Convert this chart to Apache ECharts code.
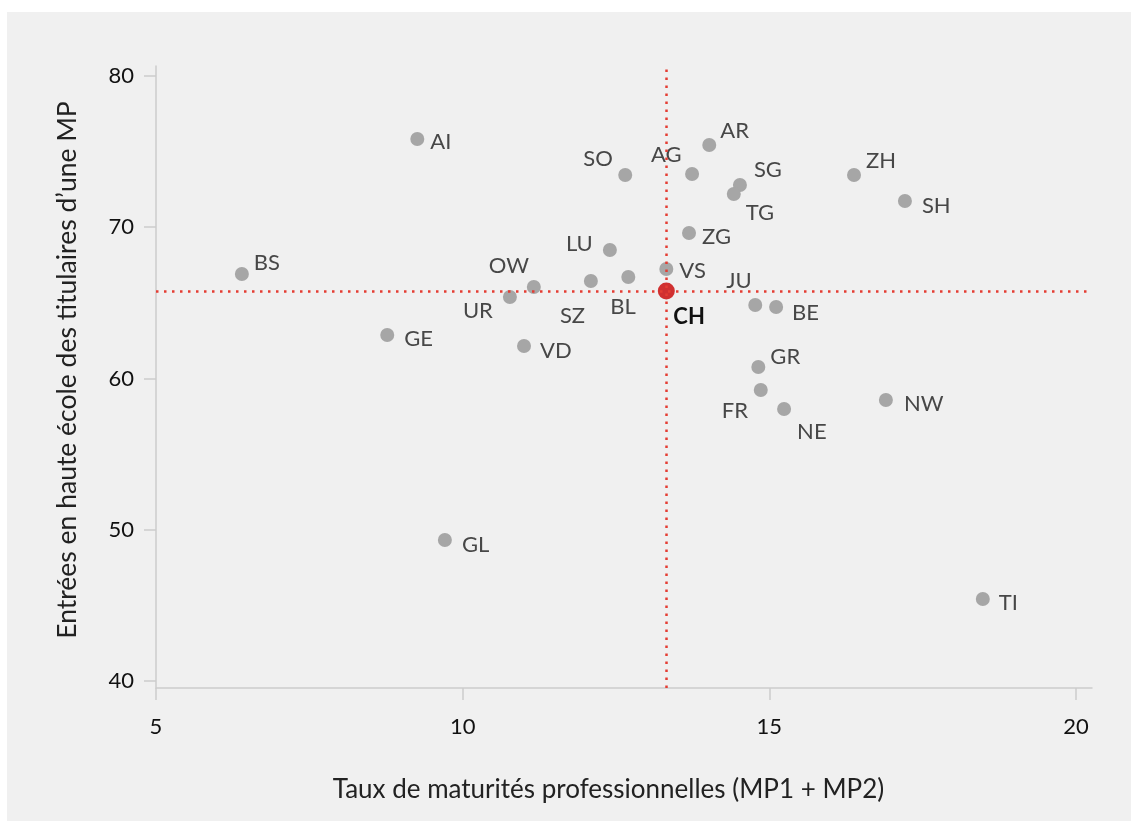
<!DOCTYPE html>
<html>
<head>
<meta charset="utf-8">
<script src="https://cdn.jsdelivr.net/npm/echarts@6/dist/echarts.min.js"></script>
<style>
html,body{margin:0;padding:0;background:#fff;}
#panel{position:absolute;left:7px;top:12px;right:0;bottom:0;background:#f0f0f0;}
#chart{position:absolute;left:0;top:0;width:1131px;height:821px;}
</style>
</head>
<body>
<div id="panel"></div>
<div id="chart"></div>
<script>
// ---- Data ----
const cantons = ['AI','BS','GE','GL','UR','OW','VD','SZ','LU','BL','SO','VS','AG','AR','ZG','SG','TG','JU','BE','GR','FR','NE','ZH','SH','NW','TI'];
const mpRate  = [9.26, 6.40, 8.77, 9.71, 10.77, 11.16, 11.00, 12.09, 12.40, 12.70, 12.65, 13.32, 13.74, 14.02, 13.69, 14.52, 14.42, 14.77, 15.11, 14.82, 14.86, 15.24, 16.38, 17.21, 16.90, 18.48];
const hsEntry = [75.83, 66.91, 62.88, 49.32, 65.39, 66.05, 62.15, 66.45, 68.50, 66.71, 73.45, 67.24, 73.52, 75.44, 69.62, 72.79, 72.20, 64.86, 64.73, 60.76, 59.24, 57.98, 73.45, 71.74, 58.58, 45.42];
const chLabel = 'CH';
const chValue = [13.32, 65.79];
const xTicks = [5, 10, 15, 20];
const yTicks = [40, 50, 60, 70, 80];
const xName = 'Taux de maturités professionnelles (MP1 + MP2)';
const yName = 'Entrées en haute école des titulaires d’une MP';

// label placement (pixel offsets from point center: left edge x, middle y)
const labelOffsets = {
  AI:[13,3], BS:[12,-11], GE:[17,4], GL:[17,5], UR:[-47,14], OW:[-45,-21], VD:[16,5],
  SZ:[-31,35], LU:[-44,-6], BL:[-18,30], SO:[-42,-16], VS:[13,2], AG:[-41,-19], AR:[11,-14],
  ZG:[13,4], SG:[14,-15], TG:[12,19], JU:[-29,-24], BE:[16,6], GR:[12,-10], FR:[-39,21],
  NE:[13,23], ZH:[12,-14], SH:[17,5], NW:[18,4], TI:[16,4], CH:[7,26]
};

const FONT = 'Lato, "Noto Sans", sans-serif';
const ctx = document.createElement('canvas').getContext('2d');
function fit(text, target, weight){
  ctx.font = (weight||'normal') + ' 100px ' + FONT;
  const w = ctx.measureText(text).width;
  return Math.round(target / w * 100 * 2) / 2;
}
const nameSizeX = fit(xName, 551);
const nameSizeY = fit(yName, 540);
const tickSize = 22;
const labelSize = 22;

const chart = echarts.init(document.getElementById('chart'), null, {renderer:'canvas'});

const pts = cantons.map((c,i)=>({
  name:c, value:[mpRate[i], hsEntry[i]],
  label:{offset:labelOffsets[c]}
}));

const option = {
  animation:false,
  backgroundColor:'transparent',
  grid:{left:156, right:39, top:66, bottom:133, containLabel:false},
  xAxis:{
    type:'value', min:5, max:20.26,
    name:xName, nameLocation:'middle', nameGap:790 - 688 - nameSizeX/2,
    nameTextStyle:{fontFamily:FONT, fontSize:nameSizeX, color:'#222', padding:[0,31,0,0]},
    splitLine:{show:false},
    axisLine:{show:true, lineStyle:{color:'#cccccc', width:1.5}},
    axisTick:{show:true, length:12, lineStyle:{color:'#cccccc', width:1.5}, customValues:xTicks},
    axisLabel:{fontFamily:FONT, fontSize:tickSize, color:'#111', margin:727 - 688 - tickSize/2, customValues:xTicks}
  },
  yAxis:{
    type:'value', min:39.54, max:80.66,
    name:yName, nameLocation:'middle', nameGap:156 - 68 - nameSizeY/2, nameRotate:90,
    nameTextStyle:{fontFamily:FONT, fontSize:nameSizeY, color:'#222', padding:[0,0,0,14]},
    splitLine:{show:false},
    axisLine:{show:true, lineStyle:{color:'#cccccc', width:1.5}},
    axisTick:{show:true, length:12, lineStyle:{color:'#cccccc', width:1.5}, customValues:yTicks},
    axisLabel:{fontFamily:FONT, fontSize:tickSize, color:'#111', margin:22, customValues:yTicks}
  },
  series:[
    {
      type:'scatter', data:[], z:1,
      markLine:{
        silent:true, symbol:'none', label:{show:false},
        lineStyle:{color:'#e43d33', type:[2.5,5.5], width:2.5, opacity:1},
        data:[{xAxis:chValue[0]},{yAxis:chValue[1]}]
      }
    },
    {
      type:'scatter', symbolSize:14,
      itemStyle:{color:'#a6a6a6', opacity:1},
      label:{show:true, position:'inside', align:'left', verticalAlign:'middle',
        formatter:'{b}', fontFamily:FONT, fontSize:labelSize, color:'#474747'},
      data:pts,
      z:3
    },
    {
      type:'scatter', symbolSize:17,
      itemStyle:{color:'#d03030', opacity:1},
      label:{show:true, position:'inside', align:'left', verticalAlign:'middle',
        formatter:'{b}', fontFamily:FONT, fontSize:labelSize, fontWeight:'bold', color:'#111',
        offset:labelOffsets.CH},
      data:[{name:chLabel, value:chValue}],
      z:4
    }
  ]
};
chart.setOption(option);
</script>
</body>
</html>
